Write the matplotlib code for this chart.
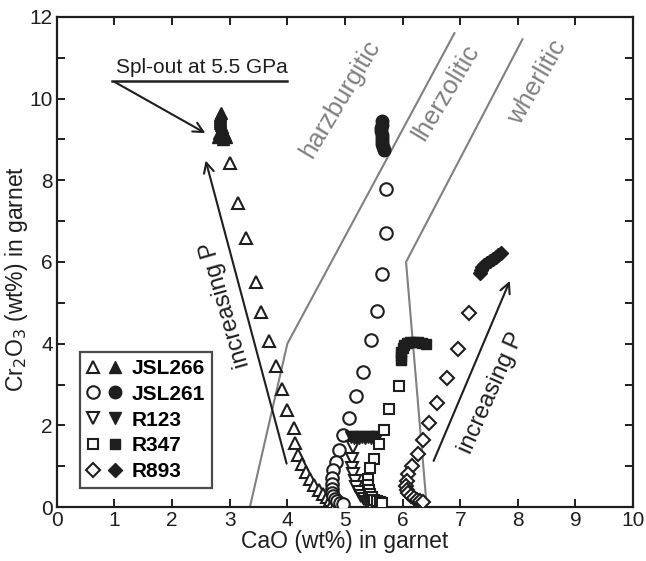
import matplotlib
matplotlib.use("Agg")
import matplotlib.pyplot as plt
from matplotlib.legend_handler import HandlerTuple
from matplotlib.ticker import MultipleLocator

plt.rcParams['font.family'] = ['Liberation Sans', 'DejaVu Sans']

# --- garnet compositions along each model path: (CaO, Cr2O3) in wt% ---
# open symbols: spinel-bearing; filled symbols: spinel-out (5.5 GPa and above)
jsl266_ca = [3.00, 3.15, 3.29, 3.45, 3.54, 3.68, 3.80, 3.91, 3.99, 4.12, 4.14, 4.19,
             4.25, 4.32, 4.40, 4.47, 4.55, 4.62, 4.68, 4.74, 4.80, 4.85, 4.90]
jsl266_cr = [8.43, 7.45, 6.59, 5.52, 4.77, 4.07, 3.46, 2.88, 2.38, 1.93, 1.58, 1.27,
             1.05, 0.85, 0.68, 0.53, 0.42, 0.32, 0.24, 0.17, 0.12, 0.08, 0.05]
jsl266_ca_f = [2.85, 2.84, 2.84, 2.83, 2.83, 2.84, 2.85, 2.86, 2.87, 2.88, 2.90,
               2.92, 2.80, 2.94, 2.82, 2.89]
jsl266_cr_f = [9.65, 9.60, 9.55, 9.50, 9.45, 9.40, 9.35, 9.30, 9.25, 9.20, 9.15,
               9.10, 9.05, 9.05, 9.15, 9.02]

jsl261_ca = [5.71, 5.71, 5.65, 5.56, 5.45, 5.32, 5.20, 5.07, 4.97, 4.90, 4.84,
             4.80, 4.78, 4.77, 4.77, 4.78, 4.80, 4.83, 4.87, 4.92, 4.97]
jsl261_cr = [7.79, 6.71, 5.71, 4.79, 4.08, 3.30, 2.72, 2.19, 1.76, 1.41, 1.11,
             0.90, 0.72, 0.57, 0.45, 0.35, 0.27, 0.20, 0.14, 0.10, 0.07]
jsl261_ca_f = [5.64, 5.64, 5.63, 5.63, 5.64, 5.64, 5.65, 5.65, 5.66, 5.67]
jsl261_cr_f = [9.44, 9.36, 9.28, 9.20, 9.12, 9.04, 8.96, 8.88, 8.81, 8.75]

r123_ca = [5.14, 5.13, 5.12, 5.14, 5.17, 5.20, 5.24, 5.28, 5.33, 5.38, 5.43]
r123_cr = [1.48, 1.19, 0.95, 0.80, 0.65, 0.50, 0.38, 0.28, 0.19, 0.12, 0.07]
r123_ca_f = [5.10, 5.15, 5.20, 5.25, 5.30, 5.35, 5.40, 5.45, 5.50, 5.55]
r123_cr_f = [1.72, 1.70, 1.71, 1.70, 1.72, 1.70, 1.71, 1.70, 1.71, 1.72]

r347_ca = [5.93, 5.77, 5.67, 5.59, 5.50, 5.43, 5.40, 5.40, 5.42, 5.44, 5.47,
           5.50, 5.55, 5.60, 5.65]
r347_cr = [2.97, 2.39, 1.90, 1.54, 1.19, 0.95, 0.70, 0.55, 0.42, 0.32, 0.24,
           0.18, 0.14, 0.12, 0.10]
r347_ca_f = [5.97, 5.97, 5.98, 6.00, 6.03, 6.08, 6.13, 6.20, 6.27, 6.33, 6.40]
r347_cr_f = [3.60, 3.70, 3.80, 3.90, 3.97, 4.02, 4.04, 4.04, 4.03, 4.02, 4.00]

r893_ca = [7.15, 6.97, 6.77, 6.59, 6.46, 6.36, 6.26, 6.16, 6.10, 6.07, 6.06,
           6.07, 6.10, 6.14, 6.19, 6.25, 6.30, 6.35]
r893_cr = [4.75, 3.87, 3.17, 2.56, 2.05, 1.64, 1.30, 1.00, 0.80, 0.65, 0.52,
           0.42, 0.34, 0.27, 0.22, 0.18, 0.15, 0.12]
r893_ca_f = [7.35, 7.36, 7.38, 7.42, 7.47, 7.52, 7.57, 7.62, 7.66, 7.70]
r893_cr_f = [5.72, 5.80, 5.87, 5.93, 5.98, 6.03, 6.08, 6.13, 6.18, 6.22]

# field boundaries (Grutter-type classification)
harz_ca = [3.35, 4.00, 6.90]
harz_cr = [0.00, 4.00, 11.60]
wehr_ca = [6.42, 6.06, 8.08]
wehr_cr = [0.00, 6.00, 11.45]

series = [
    ("JSL266", "^", 9, jsl266_ca, jsl266_cr, jsl266_ca_f, jsl266_cr_f),
    ("JSL261", "o", 9, jsl261_ca, jsl261_cr, jsl261_ca_f, jsl261_cr_f),
    ("R123", "v", 9, r123_ca, r123_cr, r123_ca_f, r123_cr_f),
    ("R347", "s", 7.5, r347_ca, r347_cr, r347_ca_f, r347_cr_f),
    ("R893", "D", 7, r893_ca, r893_cr, r893_ca_f, r893_cr_f),
]

INK = "#1e1e1e"
GREY = "#808080"

fig = plt.figure(figsize=(6.46, 5.61), dpi=100)
ax = fig.add_axes([0.088, 0.096, 0.892, 0.874])

ax.plot(harz_ca, harz_cr, color=GREY, lw=1.5, zorder=1)
ax.plot(wehr_ca, wehr_cr, color=GREY, lw=1.5, zorder=1)

handles = []
for name, mk, ms, xo, yo, xf, yf in series:
    ho, = ax.plot(xo, yo, mk, ms=ms, mfc="white", mec=INK, mew=1.5,
                  ls="none", zorder=3)
    hf, = ax.plot(xf, yf, mk, ms=ms, mfc=INK, mec=INK, mew=1.0,
                  ls="none", zorder=3)
    handles.append(((ho, hf), name))

leg = ax.legend([h for h, _ in handles], [n for _, n in handles],
                handler_map={tuple: HandlerTuple(ndivide=None, pad=0.48)},
                loc="lower left", bbox_to_anchor=(0.04, 0.039),
                frameon=True, fancybox=False, edgecolor=INK,
                prop={"size": 15, "weight": "bold"},
                handlelength=1.63, handletextpad=0.55, labelspacing=0.33,
                borderpad=0.32, borderaxespad=0)
leg.get_frame().set_linewidth(1.6)

# field names
ax.text(4.91, 10.0, "harzburgitic", rotation=59, color=GREY, fontsize=18.5,
        ha="center", va="center")
ax.text(6.75, 10.15, "lherzolitic", rotation=59, color=GREY, fontsize=18.5,
        ha="center", va="center")
ax.text(8.33, 10.39, "wherlitic", rotation=60, color=GREY, fontsize=18.5,
        ha="center", va="center")

# spinel-out annotation
ax.text(2.51, 10.62, "Spl-out at 5.5 GPa", fontsize=15, ha="center",
        va="baseline", color=INK)
ax.plot([0.96, 3.99], [10.44, 10.44], color=INK, lw=1.8)
ax.annotate("", xy=(2.62, 9.12), xytext=(0.96, 10.44),
            arrowprops=dict(arrowstyle="->", color=INK, lw=1.5,
                            mutation_scale=18))

# pressure arrows
ax.annotate("", xy=(2.57, 8.55), xytext=(4.00, 1.00),
            arrowprops=dict(arrowstyle="->", color=INK, lw=1.5,
                            mutation_scale=18))
ax.text(2.93, 4.95, "increasing P", rotation=106, fontsize=17,
        ha="center", va="center", color=INK)
ax.annotate("", xy=(7.88, 5.6), xytext=(6.52, 1.07),
            arrowprops=dict(arrowstyle="->", color=INK, lw=1.5,
                            mutation_scale=18))
ax.text(7.55, 2.8, "increasing P", rotation=66, fontsize=17,
        ha="center", va="center", color=INK)

ax.set_xlim(0, 10)
ax.set_ylim(0, 12)
ax.xaxis.set_major_locator(MultipleLocator(1))
ax.yaxis.set_major_locator(MultipleLocator(2))
ax.yaxis.set_minor_locator(MultipleLocator(1))
ax.tick_params(which="both", direction="in", top=True, right=True,
               length=6, width=1.4, colors=INK)
ax.tick_params(which="major", labelsize=15, pad=3)
for s in ax.spines.values():
    s.set_linewidth(1.6)
    s.set_color(INK)

ax.set_xlabel("CaO (wt%) in garnet", fontsize=16.5, labelpad=0, color=INK)
ax.set_ylabel("Cr$_2$O$_3$ (wt%) in garnet", fontsize=16.5, color=INK)
ax.yaxis.set_label_coords(-0.047, 0.465)

fig.savefig("out.png", dpi=100)
